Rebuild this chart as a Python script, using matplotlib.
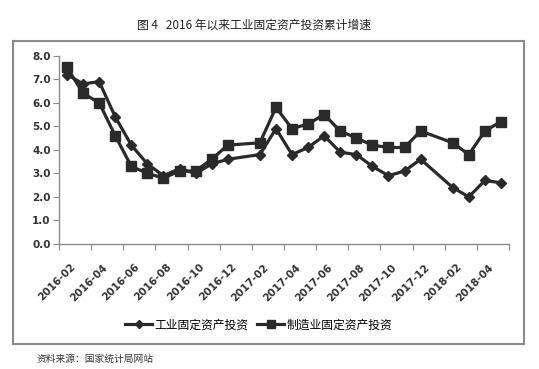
import matplotlib
matplotlib.use('Agg')
import matplotlib.pyplot as plt
from matplotlib.patches import Rectangle

plt.rcParams['font.family'] = ['Noto Sans CJK SC', 'DejaVu Sans']

# 月份 (1月无数据)
months = ['2016-02', '2016-03', '2016-04', '2016-05', '2016-06', '2016-07',
          '2016-08', '2016-09', '2016-10', '2016-11', '2016-12', '2017-01',
          '2017-02', '2017-03', '2017-04', '2017-05', '2017-06', '2017-07',
          '2017-08', '2017-09', '2017-10', '2017-11', '2017-12', '2018-01',
          '2018-02', '2018-03', '2018-04', '2018-05']
industry = [7.2, 6.8, 6.9, 5.4, 4.2, 3.4, 2.9, 3.2, 3.0, 3.4, 3.6, None,
            3.8, 4.9, 3.8, 4.1, 4.6, 3.9, 3.8, 3.3, 2.9, 3.1, 3.6, None,
            2.4, 2.0, 2.7, 2.6]
manufacturing = [7.5, 6.4, 6.0, 4.6, 3.3, 3.0, 2.8, 3.1, 3.1, 3.6, 4.2, None,
                 4.3, 5.8, 4.9, 5.1, 5.5, 4.8, 4.5, 4.2, 4.1, 4.1, 4.8, None,
                 4.3, 3.8, 4.8, 5.2]
label_months = months[::2]
yticks = [0, 1, 2, 3, 4, 5, 6, 7, 8]

fig = plt.figure(figsize=(5.39, 3.69), dpi=100)
ax = fig.add_axes([59 / 539, 1 - 244 / 369, 450 / 539, (244 - 55.7) / 369])

dark = '#2a2a2a'
gray = '#8a8a8a'


def pts(vals):
    xs = [i for i, v in enumerate(vals) if v is not None]
    ys = [v for v in vals if v is not None]
    return xs, ys


x1, y1 = pts(industry)
x2, y2 = pts(manufacturing)
ax.plot(x1, y1, color=dark, lw=2.3, marker='D', ms=5.5, label='工业固定资产投资')
ax.plot(x2, y2, color=dark, lw=2.3, marker='s', ms=7.5, label='制造业固定资产投资')

ax.set_xlim(-0.5, len(months) - 0.5)
ax.set_ylim(0, 8)
ax.set_yticks(yticks)
ax.set_yticklabels([f'{v:.1f}' for v in yticks], fontsize=7.5,
                   fontweight='bold', color='#333333', family='DejaVu Sans')

# 刻度线在类别边界，标签居中
ax.set_xticks([i - 0.5 for i in range(0, len(months) + 1, 2)])
ax.set_xticklabels([])
ax.set_xticks([i + 0.2 for i in range(0, len(months), 2)], minor=True)
ax.set_xticklabels(label_months, minor=True, rotation=45, ha='right', va='top',
                   rotation_mode='anchor', fontsize=7.5, fontweight='bold',
                   color='#333333', family='DejaVu Sans')
ax.tick_params(axis='x', which='minor', length=0, pad=13)
ax.tick_params(axis='x', which='major', length=4, color=gray, direction='out')
ax.tick_params(axis='y', length=4, color=gray, pad=2)

for s in ['top', 'right']:
    ax.spines[s].set_visible(False)
for s in ['left', 'bottom']:
    ax.spines[s].set_color(gray)
    ax.spines[s].set_linewidth(1.0)

fig.legend(loc='center', bbox_to_anchor=(0.48, 1 - 325 / 369), ncol=2,
           frameon=False, fontsize=8.5, handlelength=2.3, handletextpad=0.2,
           columnspacing=0.7, markerscale=0.8)

fig.patches.append(Rectangle((12.8 / 539, 1 - 344 / 369), (524 - 12.8) / 539,
                             (344 - 40.5) / 369, transform=fig.transFigure,
                             fill=False, edgecolor=gray, lw=1.5))

fig.text(254 / 539, 1 - 25 / 369, '图 4   2016 年以来工业固定资产投资累计增速',
         ha='center', va='center', fontsize=8.5, color='#222222')
fig.text(37 / 539, 1 - 359 / 369, '资料来源：国家统计局网站',
         ha='left', va='center', fontsize=7, color='#333333')

fig.savefig('out.png', dpi=100, facecolor='white')
